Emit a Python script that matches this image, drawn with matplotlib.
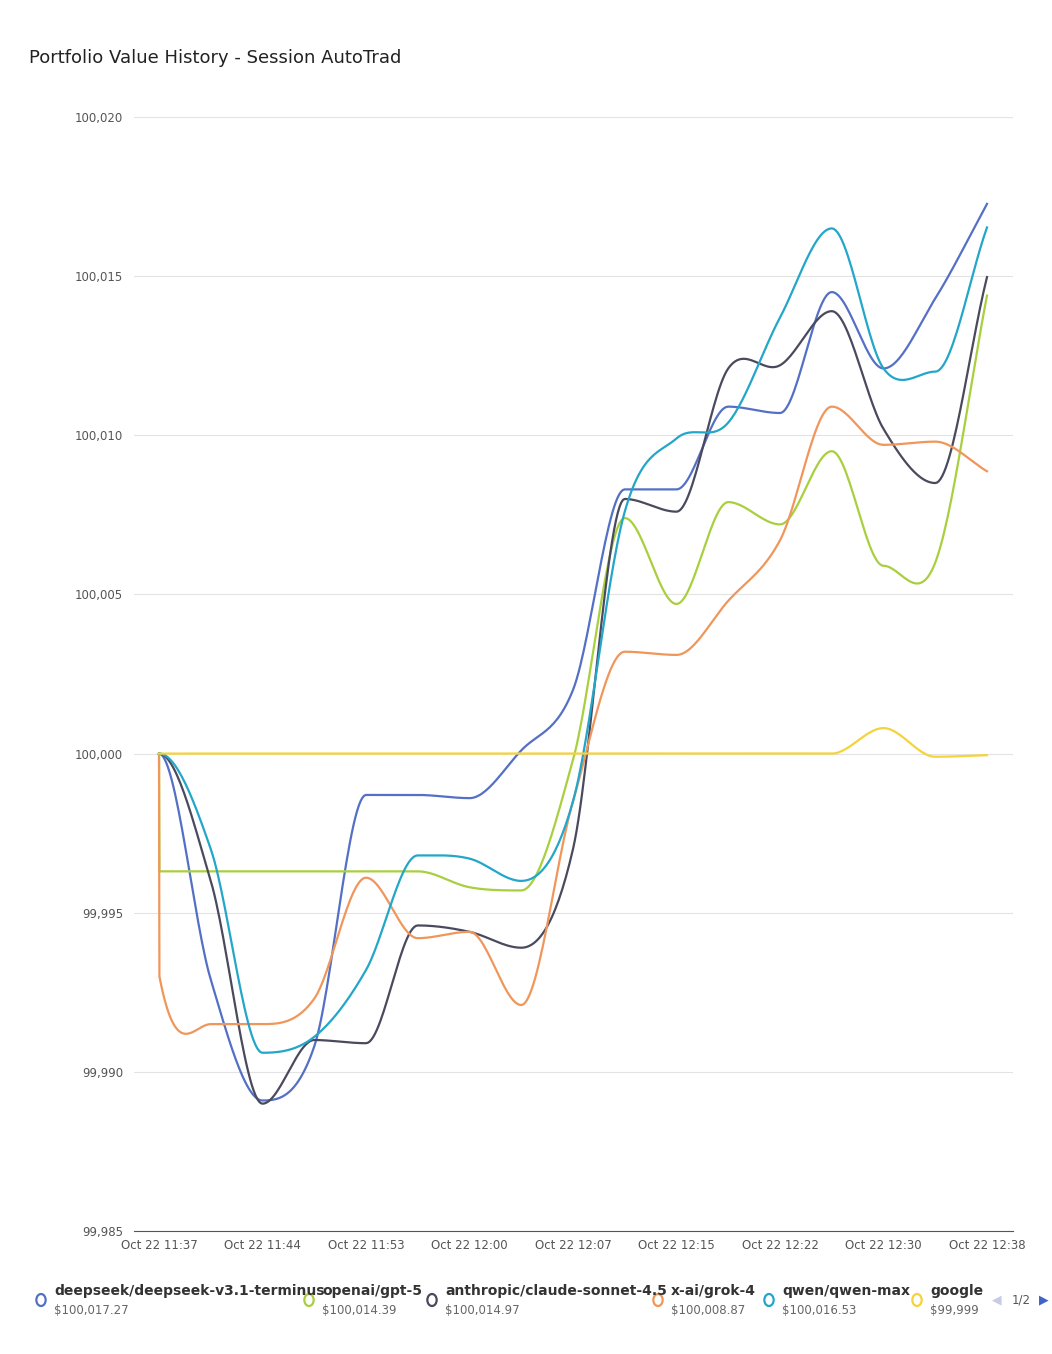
import numpy as np
import matplotlib
matplotlib.use("Agg")
import matplotlib.pyplot as plt

tick_labels = ["Oct 22 11:37", "Oct 22 11:44", "Oct 22 11:53", "Oct 22 12:00", "Oct 22 12:07",
               "Oct 22 12:15", "Oct 22 12:22", "Oct 22 12:30", "Oct 22 12:38"]
x_pos = [0, 0.5, 1, 1.5, 2, 2.5, 3, 3.5, 4, 4.5, 5, 5.5, 6, 6.5, 7, 7.5, 8]
x_pos_jump = [0, 0.004] + x_pos[1:]

deepseek = [100000, 99992.9, 99989.1, 99990.8, 99998.7, 99998.7, 99998.6, 100000.1, 100002.0,
            100008.3, 100008.3, 100010.9, 100010.7, 100014.5, 100012.1, 100014.3, 100017.27]
gpt5 = [100000, 99996.3, 99996.3, 99996.3, 99996.3, 99996.3, 99996.3, 99995.8, 99995.7, 99999.8,
        100007.4, 100004.7, 100007.9, 100007.2, 100009.5, 100005.9, 100006.0, 100014.39]
claude = [100000, 99996.0, 99989.0, 99991.0, 99990.9, 99994.6, 99994.4, 99993.9, 99997.0,
          100008.0, 100007.6, 100012.1, 100012.2, 100013.9, 100010.2, 100008.5, 100014.97]
grok = [100000, 99993.0, 99991.5, 99991.5, 99992.3, 99996.1, 99994.2, 99994.4, 99992.1, 99998.5,
        100003.2, 100003.1, 100004.8, 100006.7, 100010.9, 100009.7, 100009.8, 100008.87]
qwen = [100000, 99997.0, 99990.6, 99991.1, 99993.2, 99996.8, 99996.7, 99996.0, 99998.5,
        100007.6, 100009.9, 100010.4, 100013.7, 100016.5, 100012.1, 100012.0, 100016.53]
google = [100000, 100000, 100000, 100000, 100000, 100000, 100000, 100000, 100000,
          100000, 100000, 100000, 100000, 100000, 100000.8, 99999.9, 99999.95]

names = ["deepseek/deepseek-v3.1-terminus", "openai/gpt-5", "anthropic/claude-sonnet-4.5",
         "x-ai/grok-4", "qwen/qwen-max", "google"]
finals = ["$100,017.27", "$100,014.39", "$100,014.97", "$100,008.87", "$100,016.53", "$99,999"]
colors = ["#5470c6", "#a9cf3f", "#4a4a5e", "#f0965a", "#23a6c9", "#f5d33a"]
series = [(x_pos, deepseek), (x_pos_jump, gpt5), (x_pos, claude), (x_pos_jump, grok),
          (x_pos, qwen), (x_pos, google)]


def smooth(xs, ys, n=30):
    xs = np.asarray(xs, float); ys = np.asarray(ys, float)
    ox, oy = [], []
    for i in range(len(xs) - 1):
        p0 = i - 1 if i > 0 else i
        p3 = i + 2 if i + 2 < len(xs) else i + 1
        # monotone-ish bezier control points (echarts-like)
        dx = xs[i + 1] - xs[i]
        m1 = (ys[i + 1] - ys[p0]) / max(xs[i + 1] - xs[p0], 1e-9)
        m2 = (ys[p3] - ys[i]) / max(xs[p3] - xs[i], 1e-9)
        if i == 0 or (ys[i] - ys[p0]) * (ys[i + 1] - ys[i]) <= 0:
            m1 = 0 if i > 0 else m1 * 0
        if i + 2 >= len(xs) or (ys[p3] - ys[i + 1]) * (ys[i + 1] - ys[i]) <= 0:
            m2 = 0 if i + 2 < len(xs) else (ys[i + 1] - ys[i]) / dx
        t = np.linspace(0, 1, n)
        h00 = 2*t**3 - 3*t**2 + 1; h10 = t**3 - 2*t**2 + t
        h01 = -2*t**3 + 3*t**2; h11 = t**3 - t**2
        ox.extend(xs[i] + dx * t)
        oy.extend(h00*ys[i] + h10*dx*m1 + h01*ys[i+1] + h11*dx*m2)
    return np.array(ox), np.array(oy)


fig = plt.figure(figsize=(10.52, 13.54), dpi=100)
ax = fig.add_axes([134/1052, 1 - 1231/1354, (1013-134)/1052, (1231-117)/1354])
for (xs, ys), c in zip(series, colors):
    sx, sy = smooth(xs, ys)
    ax.plot(sx, sy, color=c, lw=1.6)

ax.set_xlim(-25/103.5, 8 + 26/103.5)
ax.set_ylim(99985, 100020)
ax.set_yticks(np.arange(99985, 100021, 5))
ax.set_yticklabels([f"{v:,}" for v in range(99985, 100021, 5)], fontsize=8.5, color="#555555")
ax.set_xticks(range(9))
ax.set_xticklabels(tick_labels, fontsize=8.5, color="#555555")
ax.grid(axis="y", color="#e3e3e3", lw=0.8)
for s in ["top", "right", "left"]:
    ax.spines[s].set_visible(False)
ax.spines["bottom"].set_color("#555555")
ax.tick_params(axis="y", length=0, pad=8)
ax.tick_params(axis="x", length=0, pad=6)

fig.text(29/1052, 1 - 58/1354, "Portfolio Value History - Session AutoTrad", fontsize=13,
         color="#222222", va="center", family="DejaVu Sans")

leg_x = [41, 309, 432, 658, 769, 917]
for lx, n, f, c in zip(leg_x, names, finals, colors):
    fig.patches.append(matplotlib.patches.Circle((lx/1052, 1 - 1300/1354), 6/1354,
                       transform=fig.transFigure, fill=False, ec=c, lw=1.6))
    fig.text((lx + 13)/1052, 1 - 1291/1354, n, fontsize=10, fontweight="bold",
             color="#333333", va="center")
    fig.text((lx + 13)/1052, 1 - 1310/1354, f, fontsize=8.5, color="#666666", va="center")
fig.text(1012/1052, 1 - 1300/1354, "1/2", fontsize=8.5, color="#555555", va="center")
fig.text(997/1052, 1 - 1300/1354, "◀", fontsize=9, color="#c8cbe6", va="center", ha="center")
fig.text(1044/1052, 1 - 1300/1354, "▶", fontsize=9, color="#4263c4", va="center", ha="center")

fig.savefig("out.png", dpi=100, facecolor="white")
